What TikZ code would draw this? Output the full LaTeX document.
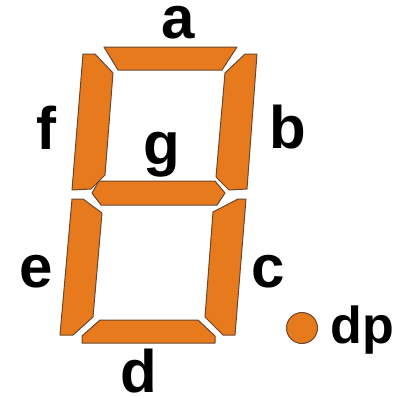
\documentclass[tikz,border=0pt]{standalone}
\usepackage{fontspec}
\setmainfont{Liberation Sans}
\definecolor{segorange}{RGB}{232,122,30}
\definecolor{segedge}{RGB}{105,70,45}

\begin{document}
\begin{tikzpicture}[x=0.5pt, y=-0.5pt,
  seg/.style={fill=segorange, draw=segedge, line width=0.5pt, line join=round},
  lbl/.style={font=\fontsize{30}{30}\selectfont\bfseries, anchor=base, inner sep=0pt}]
\useasboundingbox (0,0) rectangle (395,397);
% segments
\draw[seg] (104,47) -- (237,47) -- (222,70) -- (118,70) -- cycle; % a
\draw[seg] (245,54) -- (257,54) -- (247,189) -- (229,190) -- (216,177) -- (225,73) -- cycle; % b
\draw[seg] (238,199) -- (246,199) -- (235,335) -- (223,335) -- (205,317) -- (213,212) -- cycle; % c
\draw[seg] (100,320) -- (198,320) -- (215,336) -- (215,343) -- (82,343) -- (82,336) -- cycle; % d
\draw[seg] (72,199) -- (83,199) -- (102,213) -- (93,317) -- (73,335) -- (60,335) -- cycle; % e
\draw[seg] (83,54) -- (95,54) -- (113,73) -- (105,175) -- (91,189) -- (72,190) -- cycle; % f
\draw[seg] (99,181) -- (215,181) -- (225,193) -- (217,205) -- (101,205) -- (92,193) -- cycle; % g
\node[seg, circle, inner sep=0pt, minimum size=15.5pt] (dot) at (302,328) {}; % dp
% labels
\node[lbl] (la) at (178,38) {a};
\node[lbl] (lb) at (288,148) {b};
\node[lbl] (lc) at (268,287) {c};
\node[lbl] (ld) at (139,392) {d};
\node[lbl] (le) at (36,287) {e};
\node[lbl] (lf) at (46,149) {f};
\node[lbl] (lg) at (162,164) {g};
\node[lbl, font=\fontsize{26}{26}\selectfont\bfseries, anchor=base west] (ldp) at (330,343) {dp};
\end{tikzpicture}
\end{document}
